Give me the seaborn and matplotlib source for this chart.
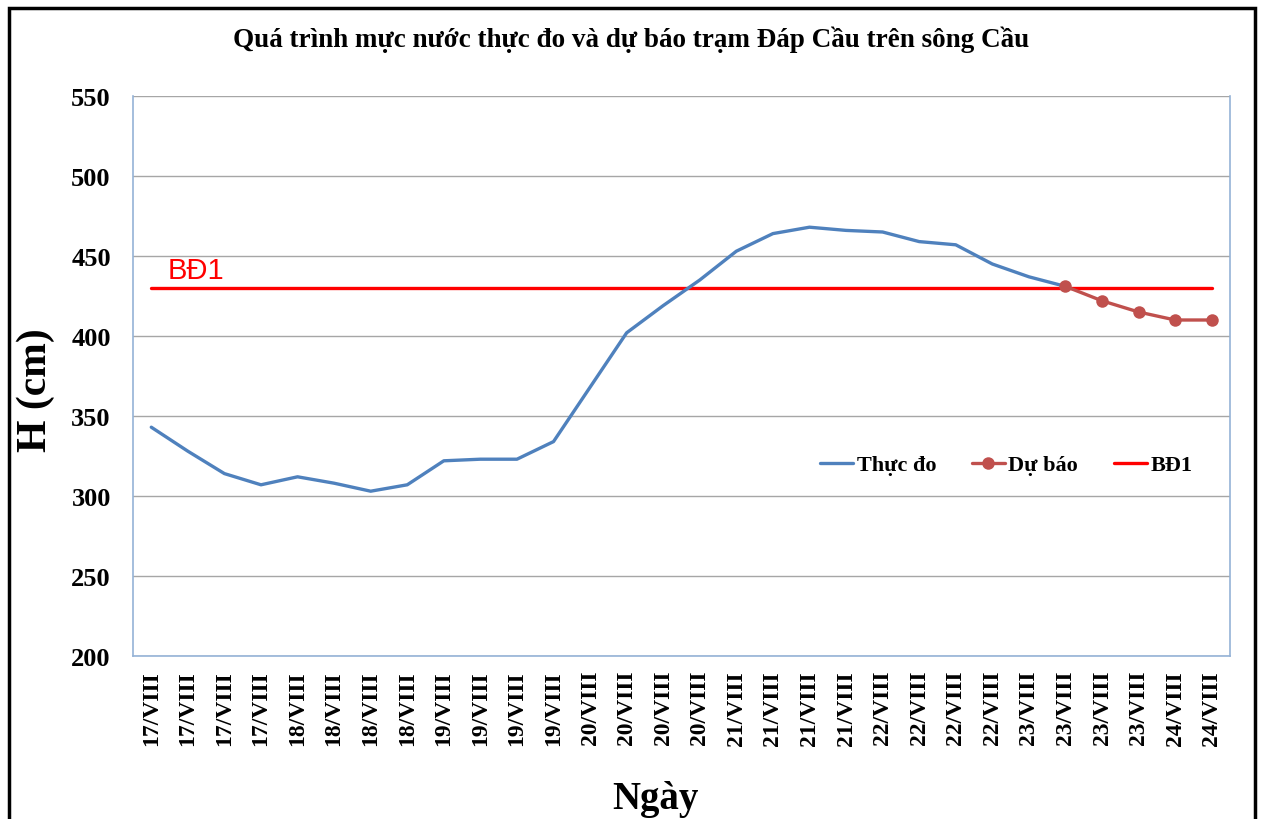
import matplotlib
matplotlib.use("Agg")
import matplotlib.pyplot as plt
import seaborn as sns
import pandas as pd
from matplotlib.patches import Rectangle

sns.set_theme(style="white")
plt.rcParams['font.family'] = ['Liberation Serif', 'DejaVu Serif']
plt.rcParams['text.color'] = 'black'
plt.rcParams['xtick.color'] = 'black'
plt.rcParams['ytick.color'] = 'black'

# ---- data ----
labels = (["17/VIII"] * 4 + ["18/VIII"] * 4 + ["19/VIII"] * 4 + ["20/VIII"] * 4 +
          ["21/VIII"] * 4 + ["22/VIII"] * 4 + ["23/VIII"] * 4 + ["24/VIII"] * 2)
observed = [343, 328, 314, 307, 312, 308, 303, 307, 322, 323, 323, 334, 368, 402,
            419, 435, 453, 464, 468, 466, 465, 459, 457, 445, 437, 431]
forecast = [431, 422, 415, 410, 410]
forecast_start = 25
bd1_level = 430
yticks = [200, 250, 300, 350, 400, 450, 500, 550]

idx = list(range(len(labels)))
df_obs = pd.DataFrame({"x": idx[:len(observed)], "H": observed})
df_fc = pd.DataFrame({"x": idx[forecast_start:forecast_start + len(forecast)], "H": forecast})
df_bd = pd.DataFrame({"x": [idx[0], idx[-1]], "H": [bd1_level, bd1_level]})

fig = plt.figure(figsize=(12.65, 8.2), dpi=100)
ax = fig.add_axes([133 / 1265, 163 / 820, 1097 / 1265, 560 / 820])

for v in yticks:
    ax.axhline(v, color="#a6a6a6", lw=1.0, zorder=0)

sns.lineplot(data=df_bd, x="x", y="H", ax=ax, color="#FF0000", lw=2.4, label="BĐ1", zorder=2)
sns.lineplot(data=df_obs, x="x", y="H", ax=ax, color="#4F81BD", lw=2.4, label="Thực đo", zorder=3)
sns.lineplot(data=df_fc, x="x", y="H", ax=ax, color="#C0504D", lw=2.4, marker="o",
             markersize=9, markeredgewidth=0, label="Dự báo", zorder=4)

ax.set_xlim(-0.5, len(labels) - 0.5)
ax.set_ylim(yticks[0], yticks[-1])
ax.set_yticks(yticks)
ax.set_yticklabels([str(v) for v in yticks], fontsize=19, fontweight="bold")
ax.set_xticks(idx)
ax.set_xticklabels(labels, rotation=90, fontsize=17, fontweight="bold")
ax.tick_params(axis="x", length=0, pad=10)
ax.tick_params(axis="y", length=0, pad=16)

for s in ["left", "right", "bottom"]:
    ax.spines[s].set_color("#95b3d7")
    ax.spines[s].set_linewidth(1.2)
ax.spines["top"].set_visible(False)

ax.set_xlabel("")
ax.set_ylabel("")
fig.text(655 / 1265, 1 - 800 / 820, "Ngày", ha="center", va="center",
         fontsize=28, fontweight="bold")
fig.text(36 / 1265, 1 - 390 / 820, "H (cm)", ha="center", va="center", rotation=90,
         fontsize=30, fontweight="bold")

ax.text(0.45, bd1_level + 2.5, "BĐ1", color="#FF0000", fontsize=21,
        family=["Liberation Sans", "DejaVu Sans"], va="bottom", ha="left")

handles, lbls = ax.get_legend_handles_labels()
order = [lbls.index("Thực đo"), lbls.index("Dự báo"), lbls.index("BĐ1")]
ax.legend([handles[i] for i in order], [lbls[i] for i in order], loc="center",
          bbox_to_anchor=(0.796, 0.341), ncol=3, frameon=False,
          prop={"weight": "bold", "size": 16}, handlelength=1.5, columnspacing=1.6,
          handletextpad=0.15)

fig.text(631 / 1265, 1 - 40 / 820, "Quá trình mực nước thực đo và dự báo trạm Đáp Cầu trên sông Cầu",
         ha="center", va="center", fontsize=19.5, fontweight="bold")

fig.add_artist(Rectangle((9 / 1265, -0.05), 1246 / 1265, 1.05 - 9 / 820,
                         transform=fig.transFigure, fill=False, edgecolor="black", lw=2.5))

fig.savefig("out.png", dpi=100)
